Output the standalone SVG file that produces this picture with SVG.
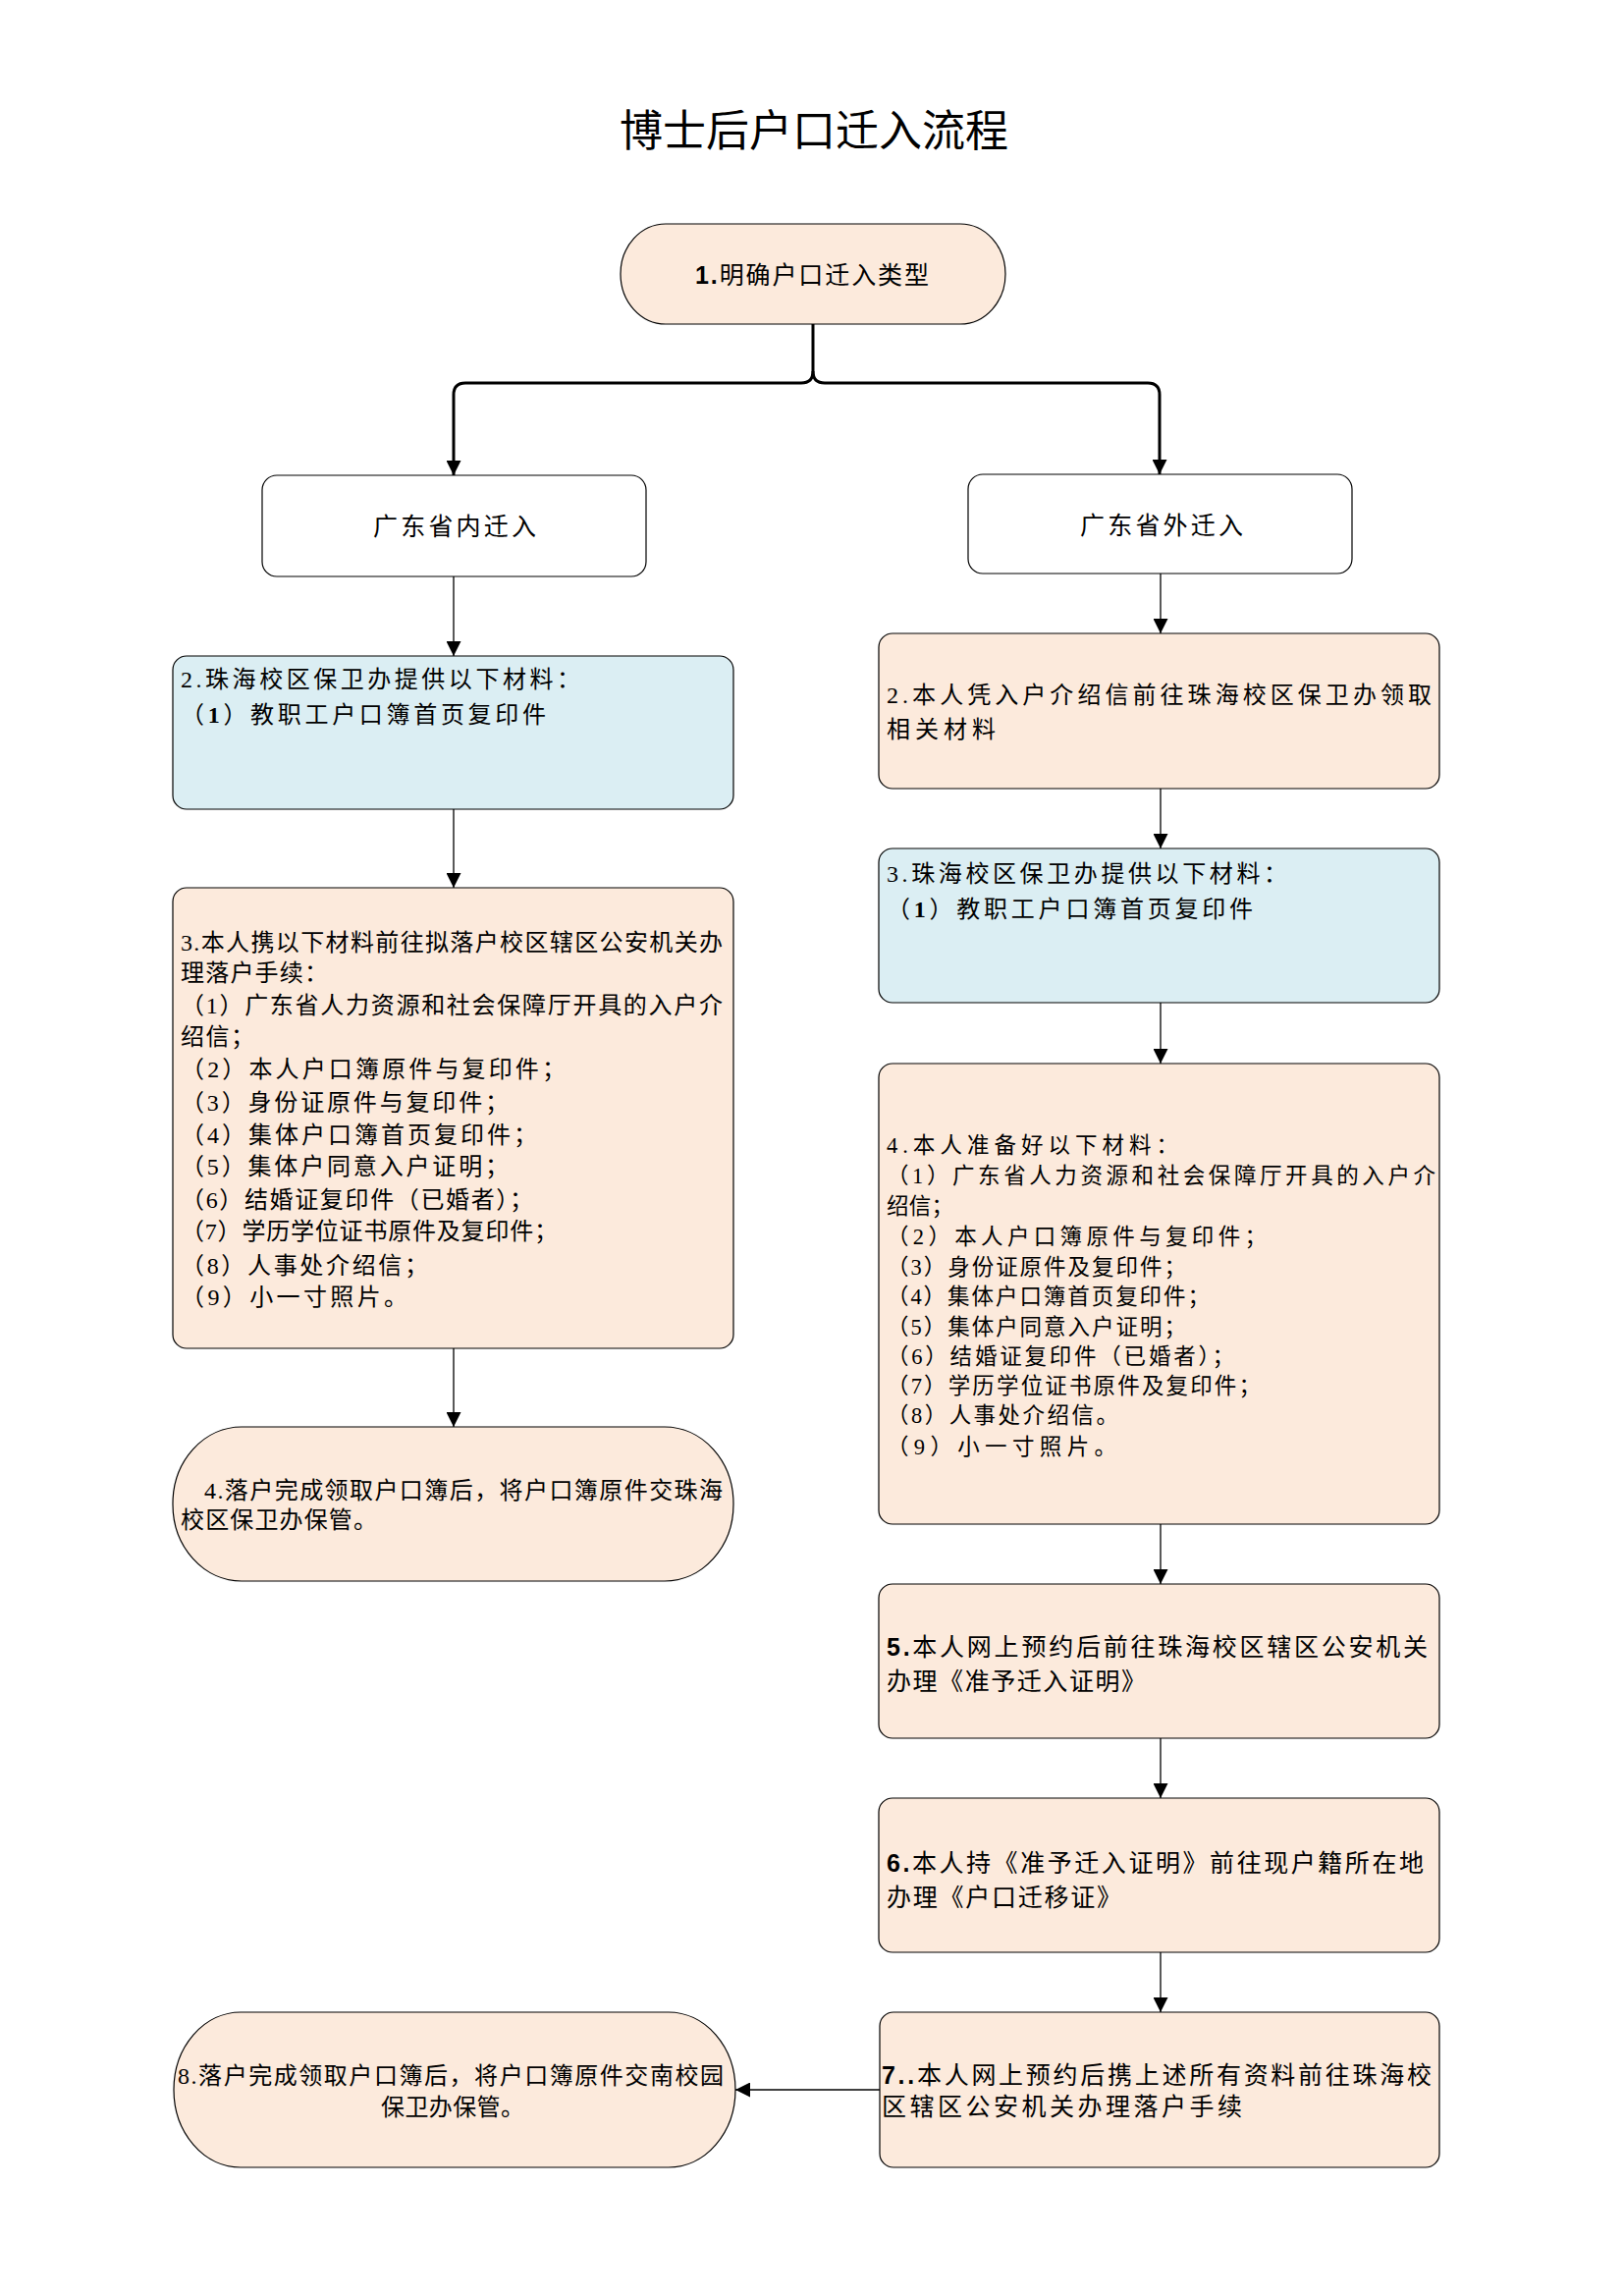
<svg xmlns="http://www.w3.org/2000/svg" width="1653" height="2338" viewBox="0 0 1653 2338">
<style>
.bg{fill:#ffffff}
.peach{fill:#FCEADC;stroke:#000;stroke-width:1.2}
.blue{fill:#DBEEF3;stroke:#000;stroke-width:1.2}
.white{fill:#ffffff;stroke:#000;stroke-width:1.2}
.t{font-family:"Liberation Serif","Noto Sans CJK SC",serif;font-size:24px;fill:#000}
.ts{font-family:"Liberation Sans","Noto Sans CJK SC",sans-serif;font-size:25px;fill:#000}
.t4{font-family:"Liberation Serif","Noto Sans CJK SC",serif;font-size:22.5px;fill:#000}
.title{font-family:"Noto Sans CJK SC",sans-serif;font-size:44px;fill:#000}
.c{fill:none;stroke:#000;stroke-width:1.3}
.cb{fill:none;stroke:#000;stroke-width:3}
</style>
<defs>
<marker id="ah" viewBox="0 0 16 16" refX="16" refY="8" markerWidth="16" markerHeight="15" markerUnits="userSpaceOnUse" orient="auto">
<path d="M0,0 L16,8 L0,16 z" fill="#000"/>
</marker>
</defs>
<rect class="bg" x="0" y="0" width="1653" height="2338"/>
<text class="title" x="829" y="149" text-anchor="middle" textLength="396">博士后户口迁入流程</text>

<g id="connectors">
<path class="cb" d="M828,330 V378 Q828,390 816,390 H474 Q462,390 462,402 V484" marker-end="url(#ah)"/>
<path class="cb" d="M828,378 Q828,390 840,390 H1169 Q1181,390 1181,402 V483" marker-end="url(#ah)"/>
<path class="c" d="M462,587 V668" marker-end="url(#ah)"/>
<path class="c" d="M462,824 V904" marker-end="url(#ah)"/>
<path class="c" d="M462,1373 V1453" marker-end="url(#ah)"/>
<path class="c" d="M1182,584 V645" marker-end="url(#ah)"/>
<path class="c" d="M1182,803 V864" marker-end="url(#ah)"/>
<path class="c" d="M1182,1021 V1083" marker-end="url(#ah)"/>
<path class="c" d="M1182,1552 V1613" marker-end="url(#ah)"/>
<path class="c" d="M1182,1770 V1831" marker-end="url(#ah)"/>
<path class="c" d="M1182,1988 V2049" marker-end="url(#ah)"/>
<path class="c" d="M896,2128 H749" marker-end="url(#ah)"/>
</g>

<g id="n1">
<rect class="peach" x="632" y="228" width="392" height="102" rx="46" ry="51"/>
<text class="ts" x="708" y="289" font-size="25" textLength="238"><tspan font-weight="bold">1.</tspan>明确户口迁入类型</text>
</g>

<g id="n_in">
<rect class="white" x="267" y="484" width="391" height="103" rx="15"/>
<text class="ts" x="380" y="545" textLength="166">广东省内迁入</text>
</g>

<g id="n_out">
<rect class="white" x="986" y="483" width="391" height="101" rx="15"/>
<text class="ts" x="1100" y="544" textLength="166">广东省外迁入</text>
</g>

<g id="l2">
<rect class="blue" x="176" y="668" width="571" height="156" rx="14"/>
<text class="t" x="184" y="700" textLength="407">2.珠海校区保卫办提供以下材料：</text>
<text class="t" x="184" y="736" textLength="372">（<tspan font-weight="bold">1</tspan>）教职工户口簿首页复印件</text>
</g>

<g id="l3">
<rect class="peach" x="176" y="904" width="571" height="469" rx="14"/>
<text class="t" x="184" y="968" textLength="552">3.本人携以下材料前往拟落户校区辖区公安机关办</text>
<text class="t" x="184" y="999" textLength="150">理落户手续：</text>
<text class="t" x="184" y="1032" textLength="552">（1）广东省人力资源和社会保障厅开具的入户介</text>
<text class="t" x="184" y="1064" textLength="75">绍信；</text>
<text class="t" x="184" y="1097" textLength="392">（2）本人户口簿原件与复印件；</text>
<text class="t" x="184" y="1131" textLength="334">（3）身份证原件与复印件；</text>
<text class="t" x="184" y="1164" textLength="363">（4）集体户口簿首页复印件；</text>
<text class="t" x="184" y="1196" textLength="334">（5）集体户同意入户证明；</text>
<text class="t" x="184" y="1230" textLength="359">（6）结婚证复印件（已婚者）；</text>
<text class="t" x="184" y="1262" textLength="384">（7）学历学位证书原件及复印件；</text>
<text class="t" x="184" y="1297" textLength="252">（8）人事处介绍信；</text>
<text class="t" x="184" y="1329" textLength="231">（9）小一寸照片。</text>
</g>

<g id="l4">
<rect class="peach" x="176" y="1453" width="571" height="157" rx="70" ry="78"/>
<text class="t" x="208" y="1526" textLength="528">4.落户完成领取户口簿后，将户口簿原件交珠海</text>
<text class="t" x="184" y="1556" textLength="200">校区保卫办保管。</text>
</g>

<g id="r2">
<rect class="peach" x="895" y="645" width="571" height="158" rx="14"/>
<text class="t" x="903" y="716" textLength="555">2.本人凭入户介绍信前往珠海校区保卫办领取</text>
<text class="t" x="903" y="751" textLength="111">相关材料</text>
</g>

<g id="r3">
<rect class="blue" x="895" y="864" width="571" height="157" rx="14"/>
<text class="t" x="903" y="898" textLength="408">3.珠海校区保卫办提供以下材料：</text>
<text class="t" x="903" y="934" textLength="373">（<tspan font-weight="bold">1</tspan>）教职工户口簿首页复印件</text>
</g>

<g id="r4">
<rect class="peach" x="895" y="1083" width="571" height="469" rx="14"/>
<text class="t4" x="903" y="1174" textLength="297">4.本人准备好以下材料：</text>
<text class="t4" x="903" y="1205" textLength="559">（1）广东省人力资源和社会保障厅开具的入户介</text>
<text class="t4" x="903" y="1236" textLength="68">绍信；</text>
<text class="t4" x="903" y="1267" textLength="387">（2）本人户口簿原件与复印件；</text>
<text class="t4" x="903" y="1298" textLength="305">（3）身份证原件及复印件；</text>
<text class="t4" x="903" y="1328" textLength="329">（4）集体户口簿首页复印件；</text>
<text class="t4" x="903" y="1359" textLength="305">（5）集体户同意入户证明；</text>
<text class="t4" x="903" y="1389" textLength="354">（6）结婚证复印件（已婚者）；</text>
<text class="t4" x="903" y="1419" textLength="381">（7）学历学位证书原件及复印件；</text>
<text class="t4" x="903" y="1449" textLength="236">（8）人事处介绍信。</text>
<text class="t4" x="903" y="1481" textLength="234">（9）小一寸照片。</text>
</g>

<g id="r5">
<rect class="peach" x="895" y="1613" width="571" height="157" rx="14"/>
<text class="ts" x="903" y="1686" textLength="551"><tspan font-weight="bold">5.</tspan>本人网上预约后前往珠海校区辖区公安机关</text>
<text class="ts" x="903" y="1721" textLength="264">办理《准予迁入证明》</text>
</g>

<g id="r6">
<rect class="peach" x="895" y="1831" width="571" height="157" rx="14"/>
<text class="ts" x="903" y="1906" textLength="547"><tspan font-weight="bold">6.</tspan>本人持《准予迁入证明》前往现户籍所在地</text>
<text class="ts" x="903" y="1941" textLength="239">办理《户口迁移证》</text>
</g>

<g id="r7">
<rect class="peach" x="896" y="2049" width="570" height="158" rx="14"/>
<text class="ts" x="898" y="2122" textLength="560"><tspan font-weight="bold">7..</tspan>本人网上预约后携上述所有资料前往珠海校</text>
<text class="ts" x="898" y="2154" textLength="367">区辖区公安机关办理落户手续</text>
</g>

<g id="l8">
<rect class="peach" x="177" y="2049" width="572" height="158" rx="68" ry="79"/>
<text class="t" x="181" y="2122" textLength="556">8.落户完成领取户口簿后，将户口簿原件交南校园</text>
<text class="t" x="461" y="2154" text-anchor="middle" textLength="146">保卫办保管。</text>
</g>
</svg>
